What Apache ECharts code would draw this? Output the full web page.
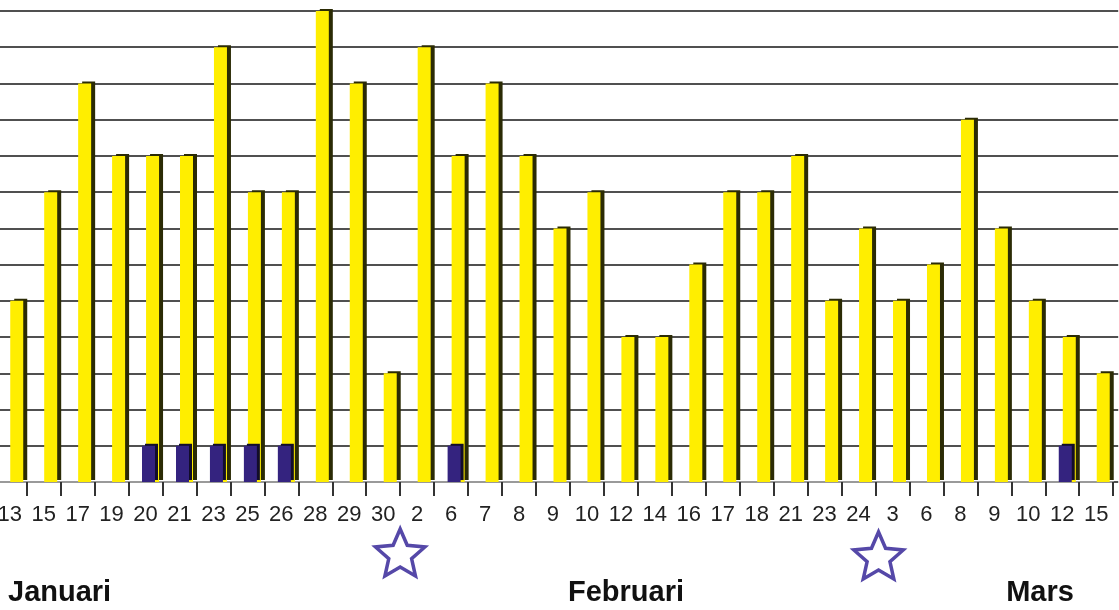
<!DOCTYPE html>
<html>
<head>
<meta charset="utf-8">
<script src="https://cdn.jsdelivr.net/npm/echarts@6/dist/echarts.min.js"></script>
<style>
  html, body { margin: 0; padding: 0; background: #fff; }
  #chart { width: 1119px; height: 610px; }
</style>
</head>
<body>
<div id="chart"></div>
<script>
// dagar (x-axel)
var categories = ['13', '15', '17', '19', '20', '21', '23', '25', '26', '28', '29', '30', '2', '6', '7', '8', '9', '10',
  '12', '14', '16', '17', '18', '21', '23', '24', '3', '6', '8', '9', '10', '12', '15'];
// gula staplar
var yellowValues = [5, 8, 11, 9, 9, 9, 12, 8, 8, 13, 11, 3, 12, 9, 11, 9, 7, 8, 4, 4, 6, 8, 8, 9, 5, 7, 5, 6, 10, 7, 5, 4, 3];
// blå staplar
var navyValues = [0, 0, 0, 0, 1, 1, 1, 1, 1, 0, 0, 0, 0, 1, 0, 0, 0, 0, 0, 0, 0, 0, 0, 0, 0, 0, 0, 0, 0, 0, 0, 1, 0];
// y-axel 0..13
var yMin = 0, yMax = 13, yStep = 1;
// stjärnor mellan dessa kategorier
var starAfter = [11, 25];
var months = [
  { text: 'Januari', x: 8, align: 'left' },
  { text: 'Februari', x: 626, align: 'center' },
  { text: 'Mars', x: 1040, align: 'center' }
];

var myChart = echarts.init(document.getElementById('chart'));

var option = {
  backgroundColor: '#fff',
  animation: false,
  grid: [
    // axel med etiketter och streck
    { left: -7.25, right: 5.8, top: 11, bottom: 128, outerBoundsMode: 'none', containLabel: false },
    // staplar + stödlinjer (lite förskjutet, 3D-känsla)
    { left: -2.25, right: 0.8, top: 11, bottom: 128, outerBoundsMode: 'none', containLabel: false }
  ],
  xAxis: [
    {
      gridIndex: 0,
      type: 'category',
      data: categories,
      boundaryGap: true,
      axisLine: { show: true, lineStyle: { color: '#9a9a9a', width: 2 } },
      axisTick: { show: true, length: 14, lineStyle: { color: '#333', width: 2 } },
      axisLabel: {
        interval: 0,
        margin: 22,
        color: '#222',
        fontSize: 22,
        fontFamily: 'Liberation Sans, Arial, sans-serif'
      },
      splitLine: { show: false }
    },
    {
      gridIndex: 1,
      type: 'category',
      data: categories,
      show: false
    }
  ],
  yAxis: [
    { gridIndex: 0, type: 'value', min: yMin, max: yMax, interval: yStep, show: false },
    {
      gridIndex: 1,
      type: 'value',
      min: yMin,
      max: yMax,
      interval: yStep,
      axisLine: { show: false },
      axisTick: { show: false },
      axisLabel: { show: false },
      splitLine: { show: true, lineStyle: { color: '#505050', width: 2 } }
    }
  ],
  series: [
    {
      name: 'blå',
      type: 'bar',
      xAxisIndex: 1,
      yAxisIndex: 1,
      data: navyValues,
      barWidth: 13,
      barGap: '-69%',
      z: 3,
      itemStyle: {
        color: '#34237f',
        borderWidth: 0,
        shadowColor: '#120d2a',
        shadowOffsetX: 3,
        shadowOffsetY: -2,
        shadowBlur: 0
      }
    },
    {
      name: 'gul',
      type: 'bar',
      xAxisIndex: 1,
      yAxisIndex: 1,
      data: yellowValues,
      barWidth: 13,
      z: 2,
      itemStyle: {
        color: '#ffee00',
        borderWidth: 0,
        shadowColor: '#2b2b05',
        shadowOffsetX: 4,
        shadowOffsetY: -2,
        shadowBlur: 0
      }
    }
  ]
};

myChart.setOption(option);

// stjärna som polygon
function starPoints(cx, cy, R, r) {
  var pts = [];
  for (var i = 0; i < 10; i++) {
    var rad = (i % 2 === 0) ? R : r;
    var a = -Math.PI / 2 + i * Math.PI / 5;
    pts.push([cx + rad * Math.cos(a), cy + rad * Math.sin(a)]);
  }
  return pts;
}

var graphics = [];
starAfter.forEach(function (idx, k) {
  var x1 = myChart.convertToPixel({ xAxisIndex: 0 }, idx);
  var x2 = myChart.convertToPixel({ xAxisIndex: 0 }, idx + 1);
  var cx = (x1 + x2) / 2 + (k === 1 ? 3 : 0);
  graphics.push({
    type: 'polygon',
    shape: { points: starPoints(cx, k === 1 ? 558 : 555, 26, 12) },
    style: { fill: '#fff', stroke: '#5548a8', lineWidth: 3.5, lineJoin: 'miter' },
    z: 10
  });
});
months.forEach(function (m) {
  graphics.push({
    type: 'text',
    x: m.x,
    y: 593,
    style: {
      text: m.text,
      fill: '#111',
      font: 'bold 29px "Liberation Sans", Arial, sans-serif',
      textAlign: m.align,
      textVerticalAlign: 'middle'
    },
    z: 10
  });
});
myChart.setOption({ graphic: graphics });
</script>
</body>
</html>
